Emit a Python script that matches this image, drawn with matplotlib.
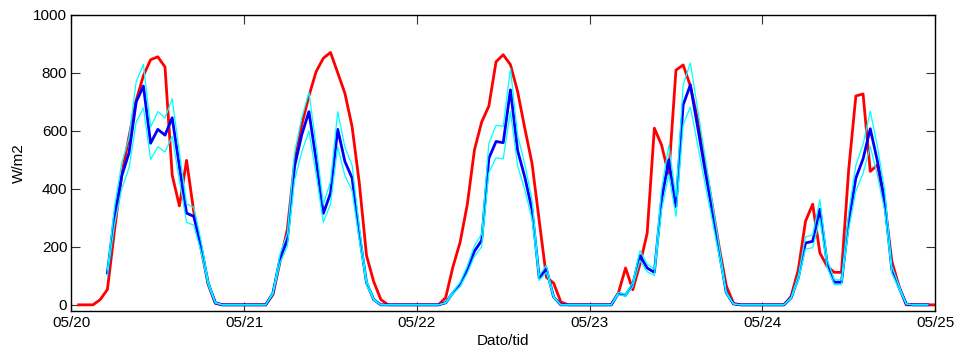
import numpy as np
import matplotlib
matplotlib.use("Agg")
import matplotlib.pyplot as plt

nan = np.nan

# hourly values, 05/20 00:00 .. 05/25 00:00
measured = [
    nan, 0, 0, 0, 18, 53, 260, 450, 580, 705, 790, 845, 855, 820, 447, 341, 498, 320, 195, 70, 5, 0, 0, 0,
    0, 0, 0, 0, 35, 150, 260, 490, 620, 720, 804, 850, 870, 800, 729, 614, 420, 170, 80, 18, 0, 0, 0, 0,
    0, 0, 0, 0, 25, 130, 215, 345, 534, 630, 685, 838, 862, 828, 735, 608, 488, 290, 95, 75, 10, 0, 0, 0,
    0, 0, 0, 0, 41, 127, 52, 140, 247, 609, 551, 448, 809, 827, 755, 640, 490, 350, 200, 65, 5, 0, 0, 0,
    0, 0, 0, 0, 29, 121, 288, 347, 179, 133, 112, 112, 465, 720, 727, 460, 482, 350, 150, 64, 0, 0, 0, 0, 0,
]
forecast = [
    0, nan, nan, nan, nan, 110, 310, 445, 524, 700, 754, 557, 605, 585, 645, 477, 316, 305, 202, 75, 7, 0, 0, 0,
    0, 0, 0, 0, 41, 161, 224, 477, 586, 666, 500, 315, 385, 605, 494, 437, 245, 76, 18, 0, 0, 0, 0, 0,
    0, 0, 0, 0, 7, 41, 70, 121, 185, 222, 505, 563, 559, 741, 532, 440, 328, 93, 124, 27, 0, 0, 0, 0,
    0, 0, 0, 0, 39, 33, 70, 170, 127, 112, 362, 500, 339, 689, 758, 615, 470, 330, 185, 41, 3, 0, 0, 0,
    0, 0, 0, 0, 24, 93, 213, 219, 330, 144, 78, 78, 288, 437, 503, 607, 495, 360, 121, 60, 3, 0, 0, 0, nan,
]
upper = [
    0, nan, nan, nan, nan, 121, 341, 490, 576, 770, 829, 613, 666, 644, 710, 525, 348, 336, 222, 83, 8, 0, 0, 0,
    0, 0, 0, 0, 45, 177, 246, 525, 645, 733, 550, 347, 424, 666, 543, 481, 270, 84, 20, 0, 0, 0, 0, 0,
    0, 0, 0, 0, 8, 45, 77, 133, 204, 244, 556, 619, 615, 815, 585, 484, 361, 102, 136, 30, 0, 0, 0, 0,
    0, 0, 0, 0, 43, 36, 77, 187, 140, 123, 398, 550, 373, 758, 834, 677, 517, 363, 204, 45, 3, 0, 0, 0,
    0, 0, 0, 0, 26, 102, 234, 241, 363, 158, 86, 86, 317, 481, 553, 668, 545, 396, 133, 66, 3, 0, 0, 0, nan,
]
lower = [
    0, nan, nan, nan, nan, 99, 279, 401, 472, 630, 679, 501, 545, 527, 581, 429, 284, 275, 182, 68, 6, 0, 0, 0,
    0, 0, 0, 0, 37, 145, 202, 429, 527, 599, 450, 284, 347, 545, 445, 393, 221, 68, 16, 0, 0, 0, 0, 0,
    0, 0, 0, 0, 6, 37, 63, 109, 167, 200, 455, 507, 503, 667, 479, 396, 295, 84, 112, 24, 0, 0, 0, 0,
    0, 0, 0, 0, 35, 30, 63, 153, 114, 101, 326, 450, 305, 620, 682, 554, 423, 297, 167, 37, 3, 0, 0, 0,
    0, 0, 0, 0, 22, 84, 192, 197, 297, 130, 70, 70, 259, 393, 453, 546, 446, 324, 109, 54, 3, 0, 0, 0, nan,
]
day_labels = ["05/20", "05/21", "05/22", "05/23", "05/24", "05/25"]

hours = np.arange(len(measured))

plt.rcParams["font.family"] = ["Liberation Sans", "DejaVu Sans"]
plt.rcParams["font.size"] = 11

fig = plt.figure(figsize=(9.59, 3.51), dpi=100)
ax = fig.add_axes([0.0745, 0.115, 0.9005, 0.843])

ax.plot(hours, measured, color="red", lw=2.0)
ax.plot(hours, forecast, color="blue", lw=2.0)
ax.plot(hours, upper, color="cyan", lw=0.9)
ax.plot(hours, lower, color="cyan", lw=0.9)

ax.set_xlim(0, 120)
ax.set_ylim(-20, 1000)
ax.set_xticks(np.arange(0, 121, 24))
ax.set_xticklabels(day_labels)
ax.set_yticks(np.arange(0, 1001, 200))
ax.tick_params(direction="in", length=6.5, width=0.8, color="#333333",
               top=True, right=True, pad=4)
ax.tick_params(axis="y", pad=3)
for s in ax.spines.values():
    s.set_linewidth(1.0)

ax.set_xlabel("Dato/tid", labelpad=3)
ax.set_ylabel("W/m2", labelpad=5)

fig.savefig("out.png", dpi=100)
